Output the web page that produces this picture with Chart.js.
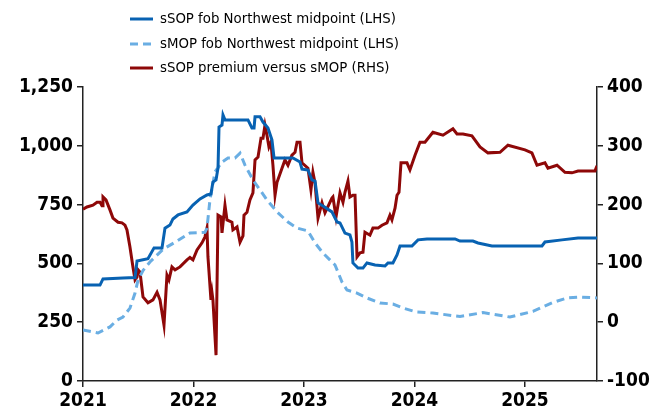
<!DOCTYPE html>
<html>
<head>
<meta charset="utf-8">
<script src="https://cdn.jsdelivr.net/npm/chart.js@4.4.1/dist/chart.umd.min.js"></script>
<style>
  html, body { margin: 0; padding: 0; background: #fff; }
  canvas { display: block; }
</style>
</head>
<body>
<canvas id="potashChart" width="667" height="416"></canvas>
<script>
// sSOP fob Northwest midpoint ($/t, left axis)
const sopYears = [2021.000, 2021.154, 2021.181, 2021.362, 2021.471, 2021.489, 2021.588, 2021.643, 2021.715, 2021.742, 2021.787, 2021.814, 2021.860, 2021.941, 2021.995, 2022.059, 2022.122, 2022.158, 2022.176, 2022.204, 2022.222, 2022.231, 2022.258, 2022.267, 2022.285, 2022.493, 2022.529, 2022.548, 2022.557, 2022.602, 2022.629, 2022.674, 2022.710, 2022.729, 2022.900, 2022.964, 2022.982, 2023.036, 2023.072, 2023.100, 2023.127, 2023.172, 2023.253, 2023.299, 2023.326, 2023.371, 2023.416, 2023.434, 2023.443, 2023.489, 2023.534, 2023.570, 2023.643, 2023.733, 2023.760, 2023.805, 2023.842, 2023.869, 2023.977, 2024.032, 2024.113, 2024.367, 2024.412, 2024.529, 2024.575, 2024.701, 2025.154, 2025.181, 2025.335, 2025.480, 2025.652];
const sopValues = [408, 408, 434, 438, 440, 510, 520, 566, 566, 650, 663, 689, 706, 719, 748, 774, 791, 795, 846, 855, 906, 1080, 1088, 1131, 1110, 1110, 1076, 1076, 1123, 1123, 1101, 1076, 1025, 948, 948, 931, 901, 897, 855, 850, 757, 744, 719, 676, 672, 629, 621, 591, 502, 480, 480, 502, 493, 489, 502, 502, 536, 574, 574, 600, 604, 604, 595, 595, 587, 574, 574, 591, 600, 608, 608];

// sMOP fob Northwest midpoint ($/t, left axis)
const mopYears = [2021.000, 2021.136, 2021.244, 2021.308, 2021.362, 2021.425, 2021.471, 2021.498, 2021.543, 2021.606, 2021.724, 2021.851, 2021.968, 2022.104, 2022.122, 2022.149, 2022.195, 2022.258, 2022.312, 2022.376, 2022.421, 2022.466, 2022.538, 2022.665, 2022.756, 2022.855, 2022.937, 2023.036, 2023.100, 2023.172, 2023.281, 2023.344, 2023.389, 2023.480, 2023.570, 2023.688, 2023.805, 2023.896, 2024.023, 2024.167, 2024.412, 2024.620, 2024.864, 2025.072, 2025.253, 2025.380, 2025.498, 2025.652];
const mopValues = [217, 204, 230, 259, 272, 310, 374, 429, 470, 506, 560, 595, 629, 632, 650, 770, 889, 931, 948, 948, 969, 918, 855, 770, 719, 676, 650, 638, 587, 544, 493, 421, 387, 374, 353, 332, 327, 310, 293, 289, 274, 291, 272, 296, 334, 353, 357, 353];

// sSOP premium versus sMOP ($/t, right axis)
const premYears = [2021.000, 2021.036, 2021.090, 2021.127, 2021.154, 2021.172, 2021.181, 2021.208, 2021.244, 2021.271, 2021.317, 2021.353, 2021.380, 2021.398, 2021.425, 2021.452, 2021.471, 2021.489, 2021.498, 2021.516, 2021.543, 2021.588, 2021.633, 2021.670, 2021.697, 2021.733, 2021.760, 2021.778, 2021.805, 2021.833, 2021.878, 2021.941, 2021.968, 2021.995, 2022.032, 2022.077, 2022.104, 2022.122, 2022.131, 2022.158, 2022.167, 2022.176, 2022.204, 2022.222, 2022.249, 2022.258, 2022.285, 2022.303, 2022.348, 2022.357, 2022.394, 2022.421, 2022.448, 2022.457, 2022.484, 2022.511, 2022.538, 2022.557, 2022.584, 2022.611, 2022.629, 2022.647, 2022.665, 2022.683, 2022.701, 2022.719, 2022.738, 2022.756, 2022.801, 2022.828, 2022.855, 2022.891, 2022.919, 2022.937, 2022.964, 2022.982, 2023.036, 2023.063, 2023.081, 2023.100, 2023.127, 2023.163, 2023.190, 2023.253, 2023.262, 2023.290, 2023.326, 2023.353, 2023.371, 2023.398, 2023.416, 2023.443, 2023.462, 2023.480, 2023.507, 2023.534, 2023.552, 2023.597, 2023.624, 2023.670, 2023.706, 2023.751, 2023.778, 2023.796, 2023.824, 2023.842, 2023.860, 2023.878, 2023.932, 2023.959, 2024.005, 2024.050, 2024.095, 2024.167, 2024.258, 2024.348, 2024.385, 2024.439, 2024.520, 2024.593, 2024.665, 2024.774, 2024.846, 2025.000, 2025.063, 2025.109, 2025.181, 2025.208, 2025.290, 2025.362, 2025.425, 2025.480, 2025.633, 2025.652];
const premValues = [192, 196, 199, 204, 204, 198, 213, 208, 191, 177, 170, 169, 165, 157, 128, 94, 72, 77, 89, 85, 43, 33, 38, 51, 38, -5, 80, 72, 94, 89, 94, 106, 110, 106, 123, 135, 145, 160, 111, 38, 51, 38, -56, 182, 179, 152, 199, 174, 170, 157, 162, 136, 147, 182, 187, 208, 220, 276, 281, 313, 313, 335, 318, 298, 306, 267, 216, 238, 262, 276, 267, 284, 289, 306, 306, 271, 262, 225, 255, 237, 177, 203, 186, 211, 213, 179, 220, 204, 221, 240, 213, 216, 216, 111, 118, 119, 153, 148, 160, 160, 165, 169, 182, 174, 194, 216, 221, 271, 271, 259, 284, 306, 306, 323, 318, 329, 320, 320, 317, 298, 288, 289, 301, 293, 288, 267, 271, 262, 267, 255, 254, 257, 257, 266];

const seriesLabels = ["sSOP fob Northwest midpoint (LHS)", "sMOP fob Northwest midpoint (LHS)", "sSOP premium versus sMOP (RHS)"];
const yearTicks = [2021, 2022, 2023, 2024, 2025];

const FONT = "'DejaVu Sans Condensed', 'DejaVu Sans', sans-serif";

function toPoints(xs, ys) {
    return xs.map((x, i) => ({ x: x, y: ys[i] }));
}

// Legend stacked in one column above the plot
const stackedLegend = {
    id: "stackedLegend",
    afterDraw(chart) {
        const ctx = chart.ctx;
        const rows = [19, 44, 68];
        ctx.save();
        ctx.font = "14.8px " + FONT;
        ctx.textBaseline = "middle";
        ctx.fillStyle = "#000";
        chart.data.datasets.forEach((ds, i) => {
            const y = rows[i];
            ctx.strokeStyle = ds.borderColor;
            ctx.lineWidth = 3;
            ctx.setLineDash(ds.borderDash || []);
            ctx.beginPath();
            ctx.moveTo(130, y);
            ctx.lineTo(153, y);
            ctx.stroke();
            ctx.setLineDash([]);
            ctx.fillText(ds.label, 160, y);
        });
        ctx.restore();
    }
};

const tickFont = { family: FONT, size: 19, weight: "bold" };
const axisGrid = { display: true, drawOnChartArea: false, drawTicks: true, tickLength: 6, color: "#222", lineWidth: 1.5 };
const axisBorder = { display: true, color: "#222", width: 1.5 };

new Chart(document.getElementById("potashChart").getContext("2d"), {
    type: "line",
    data: {
        datasets: [
            {
                label: seriesLabels[0],
                data: toPoints(sopYears, sopValues),
                borderColor: "#0862b2",
                borderWidth: 3,
                yAxisID: "y",
            },
            {
                label: seriesLabels[1],
                data: toPoints(mopYears, mopValues),
                borderColor: "#6aaee3",
                borderWidth: 3,
                borderDash: [8, 5],
                yAxisID: "y",
            },
            {
                label: seriesLabels[2],
                data: toPoints(premYears, premValues),
                borderColor: "#8e0808",
                borderWidth: 3,
                yAxisID: "y1",
            },
        ],
    },
    options: {
        responsive: false,
        animation: false,
        elements: { point: { radius: 0 }, line: { tension: 0 } },
        layout: { padding: { top: 87, left: 0, right: 0, bottom: 0 } },
        plugins: {
            legend: { display: false },
            tooltip: { enabled: false },
        },
        scales: {
            x: {
                type: "linear",
                min: yearTicks[0],
                max: 2025.652,
                afterBuildTicks(scale) {
                    scale.ticks = yearTicks.map(v => ({ value: v }));
                },
                afterFit(scale) { scale.height = 35; },
                ticks: {
                    font: tickFont,
                    color: "#000",
                    padding: 3,
                    maxRotation: 0,
                    callback: v => String(v),
                },
                grid: axisGrid,
                border: axisBorder,
            },
            y: {
                position: "left",
                min: 0,
                max: 1250,
                afterFit(scale) { scale.width = 83; },
                ticks: { stepSize: 250, font: tickFont, color: "#000", padding: 4 },
                grid: axisGrid,
                border: axisBorder,
            },
            y1: {
                position: "right",
                min: -100,
                max: 400,
                afterFit(scale) { scale.width = 70; },
                ticks: { stepSize: 100, font: tickFont, color: "#000", padding: 4 },
                grid: axisGrid,
                border: axisBorder,
            },
        },
    },
    plugins: [stackedLegend],
});
</script>
</body>
</html>
